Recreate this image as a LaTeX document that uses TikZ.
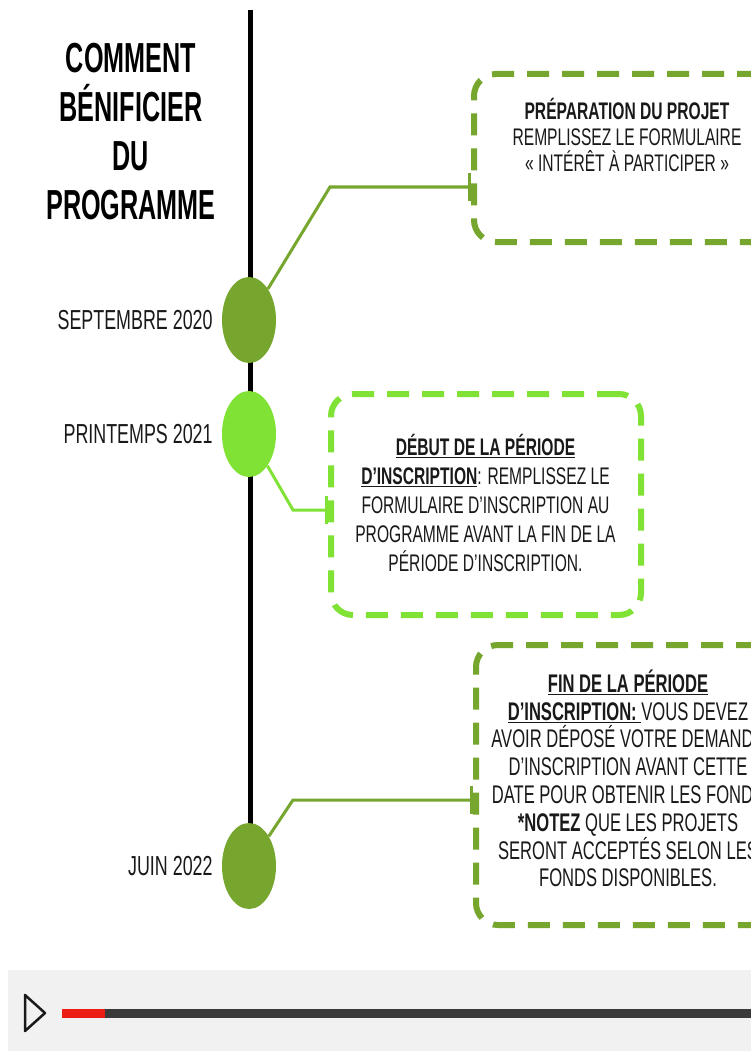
\documentclass[tikz,border=0pt]{standalone}
\usepackage{fontspec}
\setmainfont{Liberation Sans}[FakeStretch=0.65]
\newfontfamily\headfont{Liberation Sans}[FakeStretch=0.6]
\usetikzlibrary{positioning}
\usetikzlibrary{shapes.geometric}
\usetikzlibrary{arrows.meta}
\definecolor{leafdk}{RGB}{118,166,46}
\definecolor{leafbr}{RGB}{128,226,52}
\definecolor{barbg}{RGB}{240,241,240}
\definecolor{inkgray}{RGB}{25,25,25}
\definecolor{trackgray}{RGB}{58,58,58}
\definecolor{playred}{RGB}{236,30,20}
\tikzset{
    dot/.style={ellipse,minimum width=54pt,minimum height=86pt,inner sep=0pt,fill=#1},
    datelbl/.style={inner sep=0pt,text=inkgray,font=\fontsize{27.5}{27.5}\selectfont},
    stagebox/.style={rectangle,rounded corners=22pt,draw=#1,line width=6pt,dash pattern=on 22pt off 13pt,inner sep=0pt},
    stagetxt/.style={inner sep=0pt,align=center,text=inkgray},
    link/.style={draw=#1,line width=3pt,-{Bar[width=28pt]}}
}
\begin{document}
\begin{tikzpicture}[x=1pt,y=-1pt]
\useasboundingbox (0,0) rectangle (751,1051);
\clip (0,0) rectangle (751,1051);
\fill[white] (0,0) rectangle (751,1051);
\node[inner sep=0pt,align=center,font=\headfont\bfseries\fontsize{42}{49}\selectfont] (title) at (131,131.5) {COMMENT\\BÉNIFICIER\\DU\\PROGRAMME};
\coordinate (top) at (250,10);
\coordinate (bot) at (250,866);
\draw[line width=5pt] (top) -- (bot);
\foreach \y/\p/\c/\d in {320/e1/leafdk/{SEPTEMBRE 2020}, 434/e2/leafbr/{PRINTEMPS 2021}, 866/e3/leafdk/{JUIN 2022}}{
    \node[dot=\c] (\p) at (249,\y) {};
    \node[datelbl, left=9pt of \p] {\d};
}
\node[stagebox=leafdk, minimum width=307pt, minimum height=168pt] (b1) at (627.5,158) {};
\node[stagebox=leafbr, minimum width=310pt, minimum height=221pt] (b2) at (486,504.5) {};
\node[stagebox=leafdk, minimum width=304pt, minimum height=280pt] (b3) at (628,785) {};
\coordinate (k1) at (330,187);
\coordinate (k2) at (293,510);
\coordinate (k3) at (293,800);
\draw[link=leafdk] (e1) -- (k1) -- (k1 -| b1.west);
\draw[link=leafbr] (e2) -- (k2) -- (k2 -| b2.west);
\draw[link=leafdk] (e3) -- (k3) -- (k3 -| b3.west);
\node[stagetxt, font=\fontsize{24}{26}\selectfont] (t1) at (627,135) {{\bfseries PRÉPARATION DU PROJET}\\REMPLISSEZ LE FORMULAIRE\\« INTÉRÊT À PARTICIPER »};
\node[stagetxt, font=\fontsize{24}{29}\selectfont] (t2) at (485.5,503) {\underline{\bfseries DÉBUT DE LA PÉRIODE}\\\underline{\bfseries D'INSCRIPTION}: REMPLISSEZ LE\\FORMULAIRE D'INSCRIPTION AU\\PROGRAMME AVANT LA FIN DE LA\\PÉRIODE D'INSCRIPTION.};
\node[stagetxt, font=\fontsize{25.5}{27.8}\selectfont] (t3) at (628,778.5) {\underline{\bfseries FIN DE LA PÉRIODE}\\\underline{\bfseries D'INSCRIPTION:\ }VOUS DEVEZ\\AVOIR DÉPOSÉ VOTRE DEMANDE\\D'INSCRIPTION AVANT CETTE\\DATE POUR OBTENIR LES FONDS\\{\bfseries *NOTEZ} QUE LES PROJETS\\SERONT ACCEPTÉS SELON LES\\FONDS DISPONIBLES.};
% player bar
\fill[barbg] (8,970) rectangle (751,1051);
\draw[inkgray, line width=2.5pt, line join=round] (25,995) -- (45,1013) -- (25,1031) -- cycle;
\draw[trackgray, line width=9pt] (105,1013) -- (751,1013);
\draw[playred, line width=9pt] (62,1013) -- (105,1013);
\end{tikzpicture}
\end{document}
